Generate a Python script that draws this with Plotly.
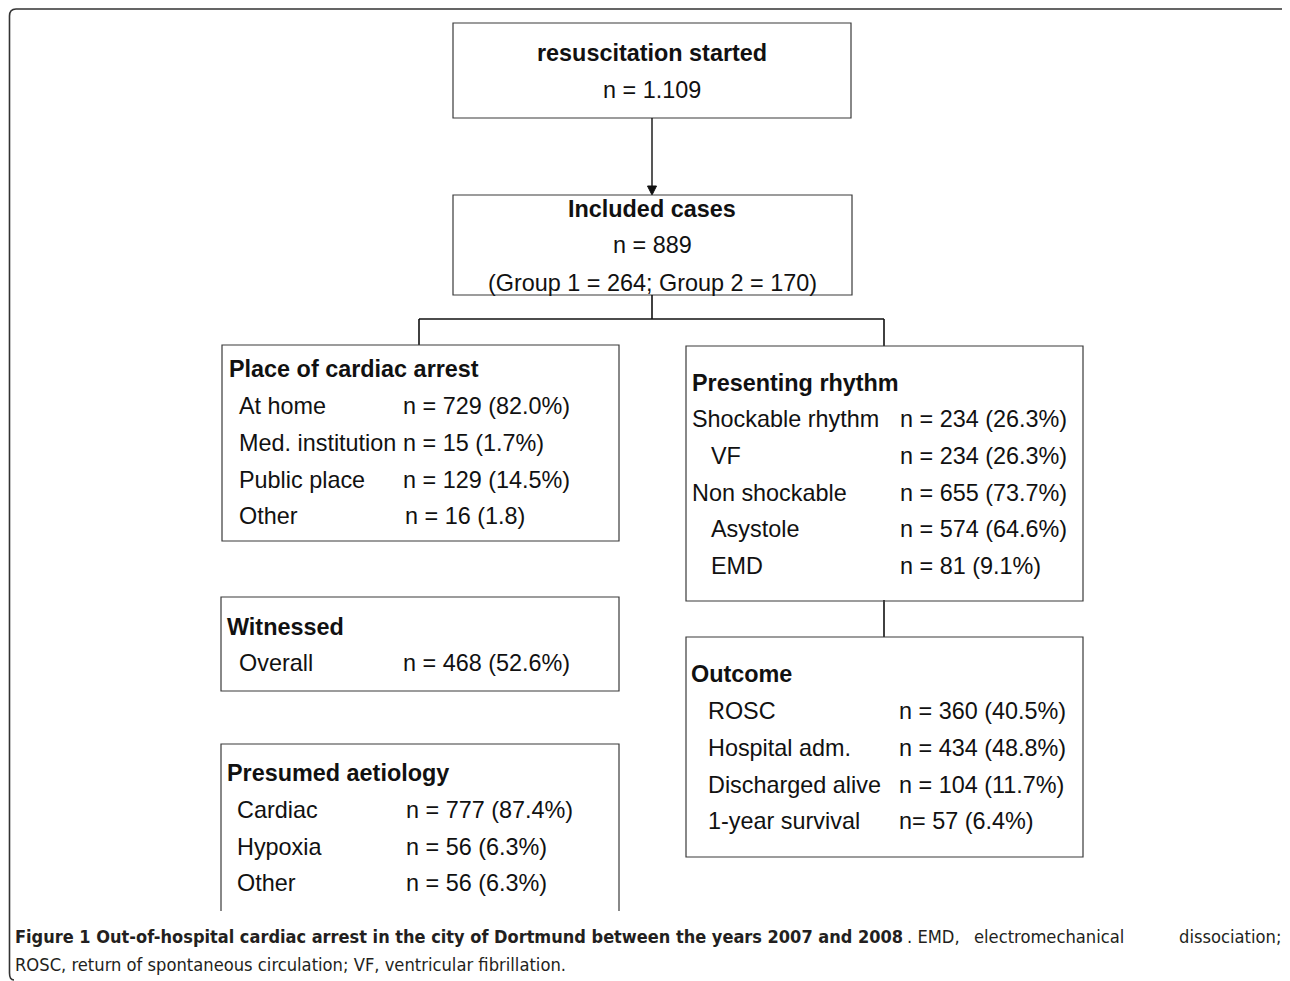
import plotly.graph_objects as go

# ---- data ----
top_title = "resuscitation started"
top_n = "n = 1.109"
incl_title = "Included cases"
incl_n = "n = 889"
incl_groups = "(Group 1 = 264; Group 2 = 170)"

place_title = "Place of cardiac arrest"
place_labels = ["At home", "Med. institution", "Public place", "Other"]
place_values = ["n = 729 (82.0%)", "n = 15 (1.7%)", "n = 129 (14.5%)", "n = 16 (1.8)"]

witn_title = "Witnessed"
witn_labels = ["Overall"]
witn_values = ["n = 468 (52.6%)"]

aet_title = "Presumed aetiology"
aet_labels = ["Cardiac", "Hypoxia", "Other"]
aet_values = ["n = 777 (87.4%)", "n = 56 (6.3%)", "n = 56 (6.3%)"]

rhythm_title = "Presenting rhythm"
rhythm_labels = ["Shockable rhythm", "VF", "Non shockable", "Asystole", "EMD"]
rhythm_indent = [0, 1, 0, 1, 1]
rhythm_values = ["n = 234 (26.3%)", "n = 234 (26.3%)", "n = 655 (73.7%)",
                 "n = 574 (64.6%)", "n = 81 (9.1%)"]

outcome_title = "Outcome"
outcome_labels = ["ROSC", "Hospital adm.", "Discharged alive", "1-year survival"]
outcome_values = ["n = 360 (40.5%)", "n = 434 (48.8%)", "n = 104 (11.7%)", "n= 57 (6.4%)"]

caption_bold = "Figure 1 Out-of-hospital cardiac arrest in the city of Dortmund between the years 2007 and 2008"
caption_rest1 = [". EMD,", "electromechanical", "dissociation;"]
caption_line2 = "ROSC, return of spontaneous circulation; VF, ventricular fibrillation."

# ---- figure ----
# the page body has an 8px margin, so the plot area starts at page pixel 8
OFF = 8
W, H = 1290, 981
BOX = "#3a3a3a"
FONT = "Liberation Sans, Arial, sans-serif"
FS = 23.4
fig = go.Figure()
fig.add_trace(go.Scatter(x=[OFF + 1], y=[OFF + 1], mode="markers", marker=dict(opacity=0),
                         hoverinfo="skip", showlegend=False))

shapes = []
annotations = []


def rect(x0, y0, x1, y1):
    shapes.append(dict(type="rect", x0=x0, y0=y0, x1=x1, y1=y1,
                       line=dict(color=BOX, width=1.2), xref="x", yref="y"))


def line(x0, y0, x1, y1, w=1.6):
    shapes.append(dict(type="line", x0=x0, y0=y0, x1=x1, y1=y1,
                       line=dict(color="#111111", width=w), xref="x", yref="y"))


def text(x, y, s, bold=False, anchor="left", size=FS, font=FONT, color="#111111"):
    annotations.append(dict(x=x, y=y, xref="x", yref="y", text=(f"<b>{s}</b>" if bold else s),
                            showarrow=False, xanchor=anchor, yanchor="middle",
                            font=dict(family=font, size=size, color=color)))


# outer frame (open border with rounded corners)
shapes.append(dict(type="path",
                   path="M 14 980 Q 9.5 980 9.5 973 L 9.5 16 Q 9.5 9 16 9 L 1284 9 Q 1289 9 1289 13",
                   line=dict(color="#333333", width=1.6), xref="x", yref="y"))

# top box
rect(453, 23, 851, 118)
text(652, 53, top_title, bold=True, anchor="center")
text(652, 90, top_n, anchor="center")

# arrow
line(652, 118, 652, 188, 1.4)
shapes.append(dict(type="path", path="M 647.5 186 L 656.5 186 L 652 195 Z",
                   fillcolor="#111111", line=dict(color="#111111", width=1), xref="x", yref="y"))

# included box
rect(453, 195, 852, 295)
text(652, 209, incl_title, bold=True, anchor="center")
text(652, 245, incl_n, anchor="center")
text(652, 283, incl_groups, anchor="center")

# connectors
line(652, 295, 652, 319)
line(419, 319, 884, 319)
line(419, 319, 419, 345)
line(884, 319, 884, 346)
line(884, 600, 884, 637)

# place box
rect(222, 345, 619, 541)
text(227, 369, place_title, bold=True)
for i, (lab, val) in enumerate(zip(place_labels, place_values)):
    y = 406 + i * 36.8
    text(237, y, lab)
    text(401 if i < 3 else 403, y, val)

# witnessed box
rect(221, 597, 619, 691)
text(225, 627, witn_title, bold=True)
for i, (lab, val) in enumerate(zip(witn_labels, witn_values)):
    text(237, 663 + i * 36.8, lab)
    text(401, 663 + i * 36.8, val)

# aetiology box (open at bottom)
shapes.append(dict(type="path", path="M 221 911 L 221 744 L 619 744 L 619 911",
                   line=dict(color=BOX, width=1.2), xref="x", yref="y"))
text(225, 773, aet_title, bold=True)
for i, (lab, val) in enumerate(zip(aet_labels, aet_values)):
    y = 810 + i * 36.7
    text(235, y, lab)
    text(404, y, val)

# rhythm box
rect(686, 346, 1083, 601)
text(690, 383, rhythm_title, bold=True)
for i, (lab, ind, val) in enumerate(zip(rhythm_labels, rhythm_indent, rhythm_values)):
    y = 419 + i * 36.8
    text(690 + (19 if ind else 0), y, lab)
    text(898, y, val)

# outcome box
rect(686, 637, 1083, 857)
text(689, 674, outcome_title, bold=True)
for i, (lab, val) in enumerate(zip(outcome_labels, outcome_values)):
    y = 711 + i * 36.8
    text(706, y, lab)
    text(897, y, val)

# caption (first line justified: words of the remainder spread to the right edge)
CAP_FONT = "DejaVu Sans Condensed, Open Sans, sans-serif"
CAP_COL = "#231f20"
text(13, 936, f"<b>{caption_bold}</b>", size=18, font=CAP_FONT, color=CAP_COL)
text(905, 936, caption_rest1[0], size=18.2, font=CAP_FONT, color=CAP_COL)
text(972, 936, caption_rest1[1], size=18.2, font=CAP_FONT, color=CAP_COL)
text(1283, 936, caption_rest1[2], anchor="right", size=18.2, font=CAP_FONT, color=CAP_COL)
text(13, 964, caption_line2, size=18.2, font=CAP_FONT, color=CAP_COL)

fig.update_layout(
    width=W - OFF, height=H - OFF, margin=dict(l=0, r=0, t=0, b=0),
    paper_bgcolor="white", plot_bgcolor="white",
    xaxis=dict(range=[OFF, W], visible=False, fixedrange=True),
    yaxis=dict(range=[H, OFF], visible=False, fixedrange=True),
    shapes=shapes, annotations=annotations, showlegend=False,
)

fig.write_html("out.html")
